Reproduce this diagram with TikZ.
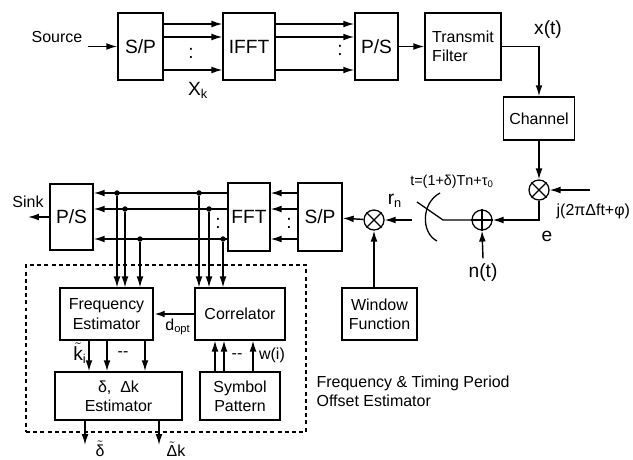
\documentclass[tikz,border=0pt]{standalone}
\usepackage{fontspec}
\setmainfont{Liberation Sans}
\usepackage{tikz}
\usetikzlibrary{arrows.meta, positioning, calc}

\begin{document}
\begin{tikzpicture}[
    x=0.022cm, y=-0.022cm,
    font=\normalsize,
    blk/.style={draw, line width=0.9pt, inner sep=2pt, align=center},
    bigblk/.style={blk, font=\large},
    mixer/.style={draw, line width=0.8pt, circle, minimum size=4.4mm, inner sep=0pt},
    sig/.style={line width=0.9pt, -{Latex[length=2.4mm,width=1.5mm]}},
    wire/.style={line width=0.8pt},
    dot/.style={circle, fill, inner sep=0pt, minimum size=1.2mm},
  ]
  \useasboundingbox (0,0) rectangle (633,459);

  % transmitter chain
  \node (src) at (57,37) {Source};
  \node[bigblk, minimum width=0.99cm, minimum height=1.47cm] (sp1) at (140.5,46.5) {S/P};
  \node[bigblk, minimum width=1.14cm, minimum height=1.47cm] (ifft) at (249,46.5) {IFFT};
  \node[bigblk, minimum width=0.95cm, minimum height=1.47cm] (ps1) at (376.5,46.5) {P/S};
  \node[blk, align=left, minimum width=1.67cm, minimum height=1.47cm] (tf) at (463,46.5) {Transmit\\Filter};
  \node[blk, minimum width=1.56cm, minimum height=0.95cm] (ch) at (539,118.5) {Channel};
  \draw[sig] (src.east |- sp1) -- (sp1);
  \foreach \o in {-22.5,-9.5,23.5} {
    \draw[sig] ($(sp1.east)+(0,\o)$) -- ($(ifft.west)+(0,\o)$);
    \draw[sig] ($(ifft.east)+(0,\o)$) -- ($(ps1.west)+(0,\o)$);
  }
  \node[font=\large] (dt1) at (191,53) {:};
  \node[font=\large] (dt2) at (340,50) {:};
  \node[font=\large] (xk) at (198,90) {X\textsubscript{k}};
  \draw[sig] (ps1) -- (tf);
  \draw[sig] (tf.east) -| (ch.north);
  \node[font=\large] (xt) at (548,30) {x(t)};

  % channel, noise and sampling
  \node[mixer] (mix1) at (539,190) {};
  \node[mixer] (add) at (482,220) {};
  \node[mixer] (mix2) at (374,220) {};
  \foreach \m in {mix1,mix2}
    \draw[wire] (\m.north east) -- (\m.south west) (\m.north west) -- (\m.south east);
  \draw[wire] (add.north) -- (add.south) (add.west) -- (add.east);
  \coordinate (phin) at (590,190);
  \draw[sig] (ch) -- (mix1);
  \draw[sig] (phin) -- (mix1);
  \draw[sig] (mix1.south) |- (add.east);
  \node[font=\large] (eb) at (547,236) {e};
  \node[anchor=west] (ex) at (551,211) {j(2πΔft+φ)};
  \node[font=\large] (nt) at (483,273) {n(t)};
  \draw[sig] (nt.north) -- (add.south);
  \coordinate (swR) at (443,220);
  \coordinate (swB) at (417,202);
  \coordinate (swL) at (412,220);
  \draw[wire] (add.west) -- (swR) -- (swB);
  \draw[wire] (440,193) .. controls (421,203) and (421,233) .. (437,241);
  \node[font=\small] (tsmp) at (452,182) {t=(1+δ)Tn+τ\textsubscript{0}};
  \node[font=\large] (rn) at (395,201) {r\textsubscript{n}};
  \draw[sig] (swL) -- (mix2);

  % receiver chain
  \node[bigblk, minimum width=0.97cm, minimum height=1.5cm] (sp2) at (320,217) {S/P};
  \node[bigblk, minimum width=0.92cm, minimum height=1.5cm] (fft) at (249,217) {FFT};
  \node[bigblk, minimum width=0.95cm, minimum height=1.45cm] (ps2) at (71.5,217) {P/S};
  \node[blk, minimum width=1.65cm, minimum height=1.14cm] (wf) at (379.5,314) {Window\\Function};
  \draw[sig] (mix2) -- (sp2);
  \draw[sig] (wf.north -| mix2) -- (mix2);
  \foreach \o/\xa/\xb [count=\i] in {-24/117/199, -8/125/209, 22/140/223} {
    \draw[sig] ($(sp2.west)+(0,\o)$) -- ($(fft.east)+(0,\o)$);
    \draw[sig] ($(fft.west)+(0,\o)$) -- ($(ps2.east)+(0,\o)$);
    \node[dot] (fa\i) at (\xa,217+\o) {};
    \node[dot] (fb\i) at (\xb,217+\o) {};
  }
  \node[font=\large] (dt3) at (289,223) {:};
  \node[font=\large] (dt4) at (218,223) {:};
  \node (sink) at (28,202) {Sink};
  \coordinate (snk) at (28,217);
  \draw[sig] (ps2) -- (snk);

  % frequency and timing period offset estimator
  \node[draw, line width=0.9pt, dash pattern=on 2.5pt off 2pt, minimum width=6.16cm, minimum height=3.67cm] (est) at (166,348.5) {};
  \node[blk, minimum width=2.05cm, minimum height=1.14cm] (fe) at (106.5,314) {Frequency\\Estimator};
  \node[blk, minimum width=1.98cm, minimum height=1.14cm] (cor) at (240,314) {Correlator};
  \node[blk, minimum width=2.79cm, minimum height=1.06cm] (de) at (118.5,396) {δ,\ \ Δk\\Estimator};
  \node[blk, minimum width=1.76cm, minimum height=1.06cm] (symp) at (240,396) {Symbol\\Pattern};
  \foreach \i in {1,2,3} {
    \draw[sig] (fa\i) -- (fa\i |- fe.north);
    \draw[sig] (fb\i) -- (fb\i |- cor.north);
  }
  \draw[sig, line width=1.6pt] (cor) -- (fe);
  \node (dopt) at (178,327) {d\textsubscript{opt}};
  \foreach \x in {89,107,145}
    \draw[sig] (fe.south -| \x,0) -- (de.north -| \x,0);
  \foreach \x in {215,224,253}
    \draw[sig] (symp.north -| \x,0) -- (cor.south -| \x,0);
  \node[font=\large] (ki) at (80,353) {$\tilde{\hbox{k}}$\textsubscript{i}};
  \node (dd1) at (123,354) {-{}-};
  \node (dd2) at (237,356) {-{}-};
  \node (wi) at (272,355) {w(i)};
  \coordinate (od) at (85,445);
  \coordinate (ok) at (159,445);
  \draw[sig] (de.south -| od) -- (od);
  \draw[sig] (de.south -| ok) -- (ok);
  \node[inner sep=1pt] (dlt) at (100,449) {$\tilde{\hbox{δ}}$};
  \node[inner sep=1pt] (dk) at (176,449) {$\tilde{\hbox{Δ}}$k};
  \node[anchor=west, align=left] (estl) at (311,391) {Frequency \& Timing Period\\Offset Estimator};
\end{tikzpicture}
\end{document}
